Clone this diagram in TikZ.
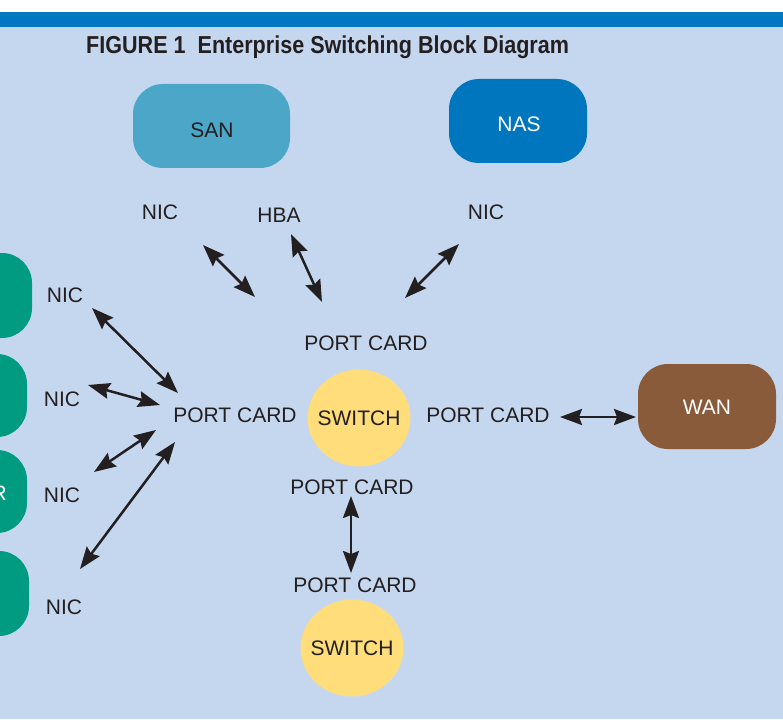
\documentclass[tikz,border=0pt]{standalone}
\usepackage{fontspec}
\setmainfont{Liberation Sans}
\newfontfamily\titlefont[FakeStretch=0.88]{Liberation Sans}
\usepackage{xcolor}
\usetikzlibrary{arrows.meta, positioning, shapes.geometric}
\definecolor{pagebg}{HTML}{C5D7EF}
\definecolor{barblue}{HTML}{0077C0}
\definecolor{sanblue}{HTML}{4BA6C8}
\definecolor{nasblue}{HTML}{0076BF}
\definecolor{wanbrown}{HTML}{8A5B3A}
\definecolor{hostgreen}{HTML}{009B80}
\definecolor{switchyellow}{HTML}{FEDD7A}
\definecolor{ink}{HTML}{231F20}
\tikzset{
    x=1pt, y=-1pt,
    every node/.style={font=\fontsize{21}{25}\selectfont, text=ink, inner sep=0pt},
    block/.style={fill=#1, rounded corners=30pt},
    switch/.style={ellipse, fill=switchyellow, minimum width=103pt, minimum height=97pt,
        label={[font=\fontsize{21}{25}\selectfont, text=ink]center:SWITCH}},
}
\tikzstyle{arrow} = [line width=2.5pt, draw=ink, {Stealth[length=22pt,width=16pt,inset=3pt]}-{Stealth[length=22pt,width=16pt,inset=3pt]}]

\begin{document}
\begin{tikzpicture}
    \useasboundingbox (0,0) rectangle (783,719);
    \fill[pagebg] (0,27) rectangle (783,719);
    \fill[barblue] (0,12) rectangle (783,27);
    \node[anchor=base west, font=\titlefont\bfseries\fontsize{24.5}{28}\selectfont] (title) at (86,54) {FIGURE 1\hspace{12pt}Enterprise Switching Block Diagram};

    % storage and wan blocks
    \fill[block=sanblue] (133,84) rectangle (290,168);
    \node (san) at (212,130) {SAN};
    \fill[block=nasblue] (449,79) rectangle (587,163);
    \node[text=white] (nas) at (519,124) {NAS};
    \fill[block=wanbrown] (638,364) rectangle (776,449);
    \node[text=white] (wan) at (707,407) {WAN};

    % hosts on the left
    \fill[block=hostgreen] (-60,253) rectangle (32,338);
    \fill[block=hostgreen] (-60,354) rectangle (27,437);
    \fill[block=hostgreen] (-60,450) rectangle (27,533);
    \node[text=white, anchor=east] (host) at (7,493) {R};
    \fill[block=hostgreen] (-60,551) rectangle (29,636);

    % switches
    \node[switch] (sw1) at (359,418) {};
    \node[switch] (sw2) at (352,648) {};

    % labels
    \node (nicsan) at (160,212) {NIC};
    \node (hba) at (279,215) {HBA};
    \node (nicnas) at (486,212) {NIC};
    \node (pctop) at (366,343) {PORT CARD};
    \node (pcleft) at (235,415) {PORT CARD};
    \node (pcright) at (488,415) {PORT CARD};
    \node (pcdown) at (352,487) {PORT CARD};
    \node (pcsw) at (355,585) {PORT CARD};
    \node (nica) at (65,295) {NIC};
    \node (nicb) at (62,399) {NIC};
    \node (nicc) at (62,495) {NIC};
    \node (nicd) at (64,607) {NIC};

    % connector ends
    \coordinate (a1) at (203,245);  \coordinate (a2) at (255,297);
    \coordinate (b1) at (291,234);  \coordinate (b2) at (322,302);
    \coordinate (c1) at (459,244);  \coordinate (c2) at (405,298);
    \coordinate (d1) at (92,308);   \coordinate (d2) at (178,393);
    \coordinate (e1) at (88,385);   \coordinate (e2) at (160,405);
    \coordinate (f1) at (94,472);   \coordinate (f2) at (156,430);
    \coordinate (g1) at (80,569);   \coordinate (g2) at (175,442);
    \coordinate (h1) at (351,496);  \coordinate (h2) at (351,573);
    \coordinate (w1) at (560,417);  \coordinate (w2) at (636,417);

    \draw[arrow] (a1) -- (a2);
    \draw[arrow] (b1) -- (b2);
    \draw[arrow] (c1) -- (c2);
    \draw[arrow] (d1) -- (d2);
    \draw[arrow] (e1) -- (e2);
    \draw[arrow] (f1) -- (f2);
    \draw[arrow] (g1) -- (g2);
    \draw[arrow] (h1) -- (h2);
    \draw[arrow] (w1) -- (w2);
\end{tikzpicture}
\end{document}
